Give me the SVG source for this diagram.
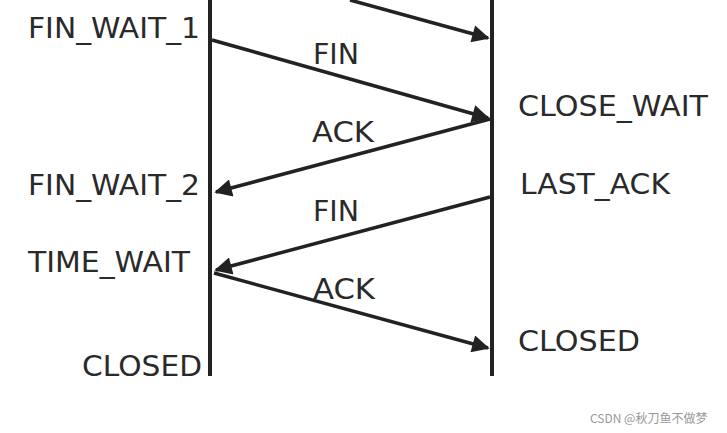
<svg xmlns="http://www.w3.org/2000/svg" width="727" height="433" viewBox="0 0 727 433">
<style>
.t{font-family:"DejaVu Sans",sans-serif;font-size:28px;fill:#2a2a2a}
.l{stroke:#222;stroke-width:4;fill:none}
.a{stroke:#222;stroke-width:3.5;fill:none;marker-end:url(#ah)}
</style>
<defs><marker id="ah" viewBox="0 0 10 10" refX="9" refY="5" markerWidth="6" markerHeight="5" orient="auto" markerUnits="strokeWidth"><path d="M0,0L10,5L0,10z" fill="#222"/></marker></defs>
<rect width="727" height="433" fill="#fff"/>
<g id="lines"><line class="l" x1="210" y1="0" x2="210" y2="376"/><line class="l" x1="492" y1="0" x2="492" y2="376"/></g>
<g id="connectors">
<line class="a" x1="350" y1="0" x2="488" y2="38"/>
<line class="a" x1="212" y1="40" x2="488" y2="118"/>
<line class="a" x1="490" y1="119" x2="216" y2="192"/>
<line class="a" x1="490" y1="197" x2="216" y2="270"/>
<line class="a" x1="214" y1="273" x2="488" y2="348"/>
</g>
<g id="labels">
<text class="t" x="28" y="38" textLength="172" lengthAdjust="spacingAndGlyphs">FIN_WAIT_1</text>
<text class="t" x="313" y="64" textLength="46" lengthAdjust="spacingAndGlyphs">FIN</text>
<text class="t" x="518" y="116" textLength="190" lengthAdjust="spacingAndGlyphs">CLOSE_WAIT</text>
<text class="t" x="312" y="142" textLength="62" lengthAdjust="spacingAndGlyphs">ACK</text>
<text class="t" x="28" y="195" textLength="172" lengthAdjust="spacingAndGlyphs">FIN_WAIT_2</text>
<text class="t" x="520" y="194" textLength="150" lengthAdjust="spacingAndGlyphs">LAST_ACK</text>
<text class="t" x="313" y="221" textLength="46" lengthAdjust="spacingAndGlyphs">FIN</text>
<text class="t" x="28" y="272" textLength="162" lengthAdjust="spacingAndGlyphs">TIME_WAIT</text>
<text class="t" x="313" y="299" textLength="62" lengthAdjust="spacingAndGlyphs">ACK</text>
<text class="t" x="518" y="351" textLength="122" lengthAdjust="spacingAndGlyphs">CLOSED</text>
<text class="t" x="82" y="376" textLength="120" lengthAdjust="spacingAndGlyphs">CLOSED</text>
</g>
<text x="590" y="423" style="font-family:'Noto Sans CJK SC',sans-serif;font-size:12px;fill:#999">CSDN @秋刀鱼不做梦</text>
</svg>
